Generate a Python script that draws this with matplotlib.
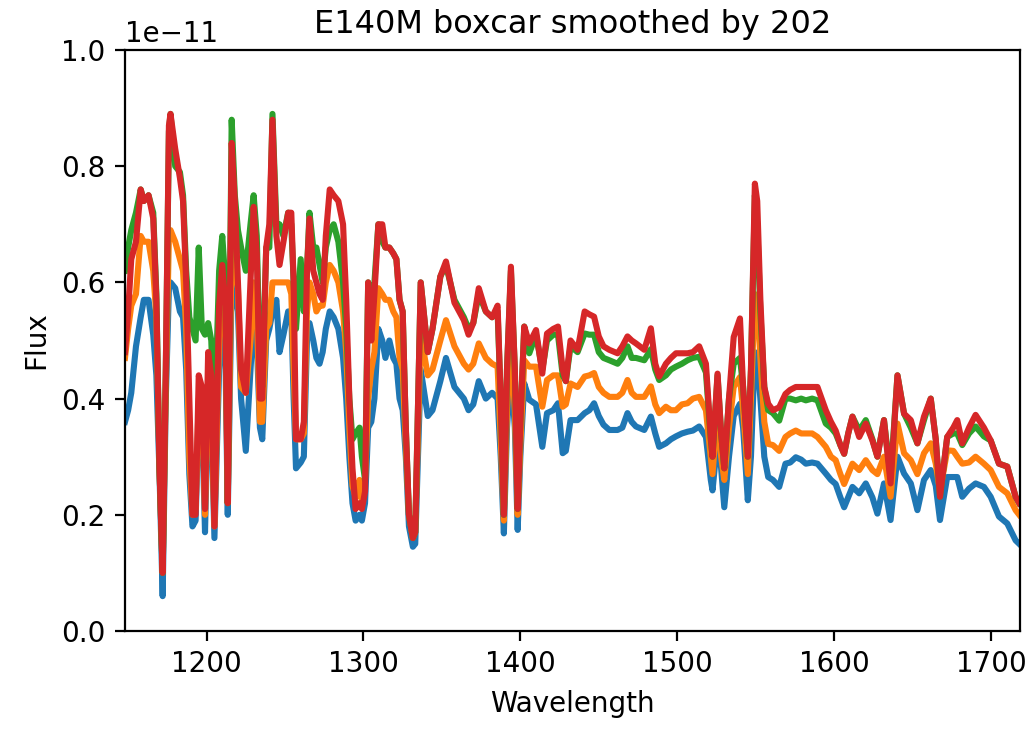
import matplotlib
matplotlib.use("Agg")
import matplotlib.pyplot as plt
import numpy as np

# Wavelength grid (Angstrom)
wavelength = [
    1148, 1150, 1152, 1155, 1158, 1160, 1163, 1166, 1168, 1170,
    1172, 1174, 1176, 1177, 1180, 1183, 1185, 1187, 1189, 1191,
    1193, 1195, 1197, 1199, 1201, 1203, 1205, 1208, 1210, 1212,
    1213.5, 1216, 1218, 1220, 1222, 1225, 1228, 1230, 1232, 1234,
    1235.5, 1238, 1240, 1242,
    1244.5, 1246.5, 1249, 1252, 1254, 1255.5, 1257, 1260, 1262, 1264,
    1265.6, 1268, 1270, 1272, 1274, 1276, 1278.5, 1281, 1284, 1287,
    1289, 1291, 1293, 1295, 1297.5, 1299, 1301, 1303, 1305, 1307,
    1309.5, 1312, 1314, 1316.5, 1319, 1321, 1323, 1325, 1327, 1329,
    1331.5, 1333,
    1336.5, 1341, 1344, 1349, 1352.6, 1358, 1364, 1367, 1370, 1373.5,
    1378, 1382, 1385.5, 1387.5, 1389.5, 1391.5, 1394, 1396.5, 1398.3, 1400,
    1402.5, 1405.7, 1410, 1414, 1417, 1421, 1424, 1427,
    1429, 1432, 1436.5, 1441, 1444, 1447, 1450, 1453, 1456.7, 1462,
    1465, 1468.3, 1471, 1473.7, 1479, 1483.2, 1486, 1488.5, 1492.8, 1496,
    1499.2, 1503, 1506.6, 1510, 1514, 1518.3,
    1521.4, 1522.5, 1525.7, 1528, 1530, 1533, 1536, 1540, 1542, 1545,
    1547, 1549.5, 1551, 1553, 1555.5, 1558, 1561, 1565, 1569, 1572,
    1575.6, 1579, 1582, 1586, 1589.4, 1594.7, 1598, 1601, 1604, 1606.4,
    1609, 1611.7, 1616, 1620.2, 1624.4, 1627.6, 1631.8, 1636, 1640.4, 1644.6,
    1648.9, 1653.1, 1657.3, 1661.6, 1664.8, 1667.5, 1672.1, 1676, 1678.5, 1681.7,
    1686, 1690.2, 1695.5, 1699.8, 1705.1, 1710.4, 1715.7, 1718,
]

# Flux values in units of 1e-11
flux_blue = [
    0.36, 0.38, 0.41, 0.49, 0.54, 0.57, 0.57, 0.51, 0.44, 0.27,
    0.06, 0.40, 0.59, 0.60, 0.59, 0.55, 0.54, 0.45, 0.27, 0.18,
    0.19, 0.38, 0.38, 0.17, 0.40, 0.38, 0.16, 0.45, 0.52, 0.48,
    0.20, 0.60, 0.58, 0.55, 0.40, 0.31, 0.45, 0.54, 0.50, 0.35,
    0.33, 0.50, 0.52, 0.55,
    0.57, 0.48, 0.51, 0.55, 0.55, 0.40, 0.28, 0.29, 0.30, 0.50,
    0.53, 0.50, 0.47, 0.46, 0.48, 0.52, 0.55, 0.54, 0.52, 0.47,
    0.40, 0.30, 0.22, 0.19, 0.20, 0.19, 0.22, 0.35, 0.36, 0.40,
    0.52, 0.50, 0.47, 0.50, 0.47, 0.46, 0.40, 0.38, 0.30, 0.18,
    0.145, 0.15,
    0.45, 0.37, 0.38, 0.43, 0.47, 0.42, 0.40, 0.38, 0.39, 0.43,
    0.40, 0.41, 0.40, 0.30, 0.168, 0.35, 0.45, 0.35, 0.174, 0.30,
    0.426, 0.398, 0.39, 0.317, 0.375, 0.38, 0.392, 0.306,
    0.31, 0.363, 0.363, 0.375, 0.38, 0.392, 0.37, 0.355, 0.346, 0.346,
    0.35, 0.375, 0.36, 0.352, 0.346, 0.369, 0.34, 0.317, 0.323, 0.33,
    0.335, 0.34, 0.343, 0.345, 0.352, 0.334,
    0.26, 0.242, 0.33, 0.28, 0.213, 0.30, 0.37, 0.391, 0.35, 0.225,
    0.30, 0.48, 0.47, 0.40, 0.30, 0.265, 0.26, 0.248, 0.288, 0.29,
    0.299, 0.295, 0.288, 0.29, 0.288, 0.271, 0.26, 0.253, 0.23, 0.213,
    0.23, 0.248, 0.237, 0.254, 0.23, 0.202, 0.254, 0.191, 0.30, 0.271,
    0.254, 0.208, 0.26, 0.277, 0.25, 0.191, 0.265, 0.265, 0.265, 0.231,
    0.245, 0.254, 0.248, 0.231, 0.197, 0.185, 0.156, 0.15,
]

flux_orange = [
    0.47, 0.52, 0.56, 0.58, 0.68, 0.67, 0.67, 0.62, 0.54, 0.28,
    0.10, 0.42, 0.68, 0.69, 0.67, 0.64, 0.62, 0.52, 0.30, 0.20,
    0.21, 0.40, 0.40, 0.20, 0.44, 0.40, 0.18, 0.50, 0.58, 0.53,
    0.22, 0.66, 0.62, 0.59, 0.42, 0.41, 0.50, 0.60, 0.55, 0.36,
    0.36, 0.52, 0.53, 0.60,
    0.60, 0.60, 0.60, 0.60, 0.58, 0.45, 0.33, 0.33, 0.34, 0.55,
    0.60, 0.58, 0.55, 0.56, 0.56, 0.60, 0.63, 0.62, 0.60, 0.55,
    0.48, 0.35, 0.25, 0.23, 0.26, 0.22, 0.26, 0.40, 0.45, 0.48,
    0.59, 0.58, 0.57, 0.57, 0.55, 0.54, 0.47, 0.45, 0.32, 0.20,
    0.16, 0.17,
    0.51, 0.44, 0.45, 0.50, 0.535, 0.49, 0.46, 0.45, 0.46, 0.495,
    0.47, 0.46, 0.455, 0.33, 0.19, 0.38, 0.50, 0.38, 0.20, 0.32,
    0.466, 0.455, 0.455, 0.386, 0.432, 0.44, 0.44, 0.386,
    0.39, 0.426, 0.42, 0.438, 0.44, 0.444, 0.42, 0.41, 0.403, 0.403,
    0.41, 0.432, 0.41, 0.403, 0.403, 0.421, 0.39, 0.375, 0.386, 0.38,
    0.38, 0.39, 0.392, 0.40, 0.403, 0.38,
    0.30, 0.27, 0.38, 0.30, 0.26, 0.35, 0.42, 0.437, 0.38, 0.27,
    0.40, 0.58, 0.57, 0.47, 0.36, 0.322, 0.32, 0.31, 0.334, 0.34,
    0.345, 0.34, 0.34, 0.34, 0.334, 0.317, 0.30, 0.294, 0.27, 0.253,
    0.27, 0.288, 0.277, 0.294, 0.277, 0.27, 0.30, 0.231, 0.357, 0.306,
    0.294, 0.27, 0.306, 0.323, 0.288, 0.24, 0.311, 0.31, 0.30, 0.288,
    0.29, 0.30, 0.288, 0.277, 0.248, 0.237, 0.208, 0.20,
]

flux_green = [
    0.62, 0.66, 0.69, 0.72, 0.76, 0.74, 0.75, 0.72, 0.58, 0.28,
    0.10, 0.45, 0.86, 0.89, 0.80, 0.79, 0.75, 0.62, 0.54, 0.52,
    0.50, 0.66, 0.52, 0.51, 0.53, 0.50, 0.35, 0.62, 0.68, 0.60,
    0.22, 0.88, 0.75, 0.69, 0.66, 0.62, 0.70, 0.75, 0.68, 0.45,
    0.42, 0.66, 0.66, 0.89,
    0.70, 0.70, 0.68, 0.72, 0.70, 0.60, 0.52, 0.64, 0.55, 0.62,
    0.72, 0.66, 0.66, 0.63, 0.60, 0.66, 0.69, 0.70, 0.67, 0.60,
    0.52, 0.40, 0.33, 0.34, 0.35, 0.30, 0.26, 0.60, 0.52, 0.60,
    0.70, 0.67, 0.66, 0.66, 0.65, 0.64, 0.57, 0.55, 0.35, 0.20,
    0.16, 0.17,
    0.60, 0.48, 0.52, 0.61, 0.63, 0.57, 0.54, 0.52, 0.53, 0.58,
    0.55, 0.54, 0.55, 0.40, 0.20, 0.45, 0.62, 0.45, 0.21, 0.36,
    0.524, 0.478, 0.51, 0.45, 0.50, 0.51, 0.51, 0.44,
    0.43, 0.49, 0.48, 0.512, 0.51, 0.51, 0.48, 0.47, 0.466, 0.46,
    0.47, 0.49, 0.47, 0.47, 0.466, 0.485, 0.45, 0.432, 0.44, 0.45,
    0.455, 0.46, 0.466, 0.47, 0.472, 0.445,
    0.33, 0.30, 0.44, 0.34, 0.28, 0.40, 0.46, 0.47, 0.42, 0.30,
    0.45, 0.75, 0.70, 0.55, 0.42, 0.38, 0.375, 0.362, 0.40, 0.40,
    0.397, 0.40, 0.397, 0.40, 0.397, 0.357, 0.35, 0.34, 0.32, 0.305,
    0.34, 0.369, 0.345, 0.363, 0.33, 0.30, 0.363, 0.265, 0.44, 0.374,
    0.35, 0.323, 0.363, 0.40, 0.33, 0.231, 0.334, 0.34, 0.34, 0.32,
    0.34, 0.352, 0.335, 0.328, 0.288, 0.283, 0.231, 0.22,
]

flux_red = [
    0.48, 0.55, 0.64, 0.67, 0.76, 0.74, 0.75, 0.71, 0.57, 0.28,
    0.10, 0.45, 0.87, 0.89, 0.83, 0.78, 0.74, 0.60, 0.40, 0.20,
    0.20, 0.44, 0.42, 0.21, 0.48, 0.44, 0.18, 0.56, 0.63, 0.56,
    0.22, 0.84, 0.74, 0.60, 0.45, 0.41, 0.60, 0.73, 0.65, 0.40,
    0.40, 0.66, 0.70, 0.88,
    0.68, 0.63, 0.67, 0.72, 0.72, 0.60, 0.33, 0.33, 0.36, 0.62,
    0.71, 0.62, 0.60, 0.58, 0.57, 0.68, 0.76, 0.75, 0.74, 0.70,
    0.57, 0.40, 0.28, 0.21, 0.22, 0.21, 0.24, 0.60, 0.50, 0.58,
    0.70, 0.70, 0.66, 0.66, 0.65, 0.64, 0.57, 0.55, 0.35, 0.20,
    0.16, 0.17,
    0.60, 0.48, 0.52, 0.61, 0.636, 0.565, 0.535, 0.51, 0.53, 0.59,
    0.55, 0.54, 0.56, 0.40, 0.20, 0.45, 0.627, 0.45, 0.21, 0.36,
    0.524, 0.495, 0.518, 0.443, 0.512, 0.52, 0.524, 0.45,
    0.43, 0.50, 0.484, 0.55, 0.545, 0.541, 0.507, 0.49, 0.484, 0.478,
    0.49, 0.507, 0.50, 0.495, 0.484, 0.521, 0.46, 0.438, 0.46, 0.47,
    0.478, 0.478, 0.478, 0.48, 0.49, 0.46,
    0.334, 0.30, 0.443, 0.34, 0.28, 0.40, 0.506, 0.538, 0.42, 0.30,
    0.45, 0.77, 0.74, 0.57, 0.42, 0.391, 0.38, 0.385, 0.408, 0.415,
    0.42, 0.42, 0.42, 0.42, 0.42, 0.38, 0.36, 0.345, 0.32, 0.305,
    0.34, 0.369, 0.334, 0.357, 0.328, 0.30, 0.363, 0.254, 0.44, 0.374,
    0.363, 0.323, 0.369, 0.40, 0.33, 0.231, 0.334, 0.35, 0.363, 0.323,
    0.35, 0.372, 0.35, 0.328, 0.288, 0.283, 0.231, 0.22,
]

scale = 1e-11
title = "E140M boxcar smoothed by 202"

DPI = 200
fig = plt.figure(figsize=(1027 / DPI, 730 / DPI), dpi=DPI)
ax = fig.add_axes([125 / 1027, 1 - 631 / 730, (1020 - 125) / 1027, (631 - 50) / 730])

w = np.array(wavelength)
for series, col in [(flux_blue, "C0"), (flux_orange, "C1"),
                    (flux_green, "C2"), (flux_red, "C3")]:
    ax.plot(w, np.array(series) * scale, color=col, lw=2.2)

ax.set_xlim(1148, 1718.5)
ax.set_ylim(0, 1e-11)
ax.set_yticks(np.arange(0, 1.01, 0.2) * scale)
ax.set_title(title, fontsize=11.5)
ax.set_xlabel("Wavelength", fontsize=10)
ax.set_ylabel("Flux", fontsize=10)
ax.tick_params(labelsize=10)

fig.savefig("out.png", dpi=DPI)
